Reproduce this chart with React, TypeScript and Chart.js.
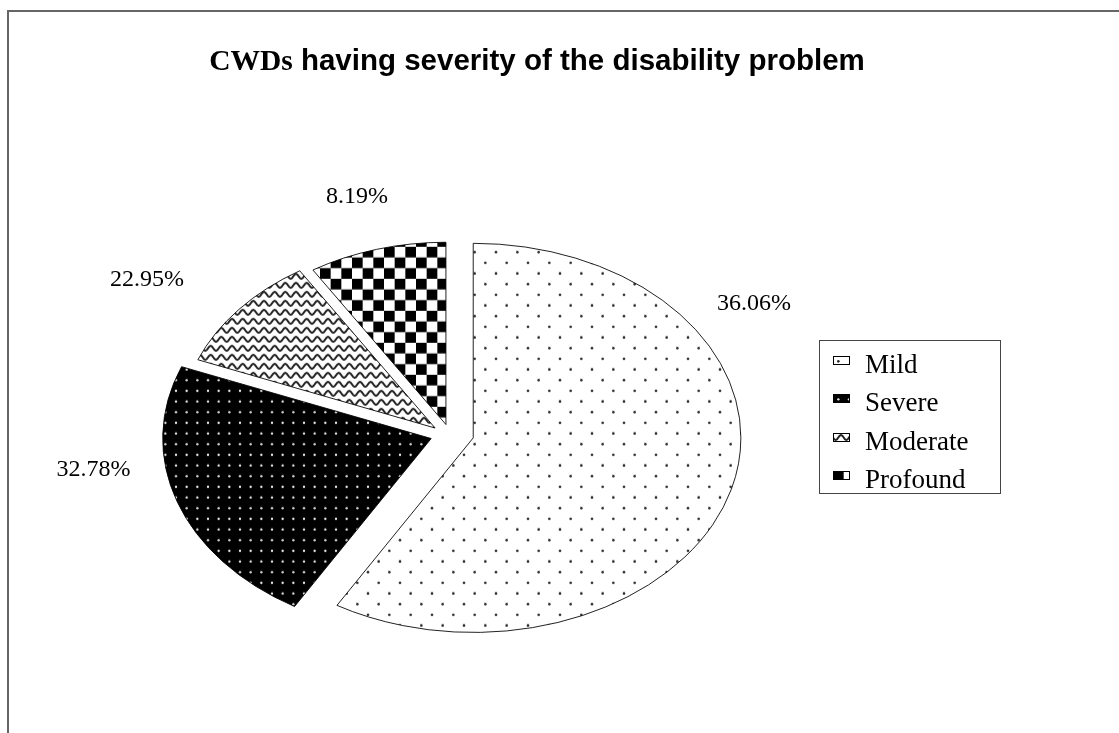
import { useEffect, useRef } from 'react';
import { Chart, registerables } from 'chart.js';

Chart.register(...registerables);

// ---------- data ----------
const categories = ['Mild', 'Severe', 'Moderate', 'Profound'];
// slice shares as drawn in the picture (percent of the full circle)
const sliceShares = [58.5, 22.5, 10.1, 8.9];
// printed percentage labels
const percentLabels = ['36.06%', '32.78%', '22.95%', '8.19%'];
const titleLead = 'CWDs';
const titleRest = ' having severity of the disability problem';

// ---------- style ----------
const W = 1119;
const H = 733;
const PIE_RADIUS = 264;
const TILT = 0.727; // vertical squash of the pie (ellipse)
const EXPLODE_X = 22;
const EXPLODE_Y = 15;
const PERSPECTIVE = 0.0048; // size change per px of vertical shift (3D look)
// label anchors: [angle clockwise from 12 o'clock (deg), radius factor]
const LABEL_POLAR: [number, number][] = [
  [58.7, 1.339],
  [262.9, 1.368],
  [305.4, 1.417],
  [344.0, 1.304],
];
const P = 32 / 3;

function makeTile(w: number, h: number, draw: (g: CanvasRenderingContext2D) => void) {
  const c = document.createElement('canvas');
  c.width = w;
  c.height = h;
  const g = c.getContext('2d')!;
  draw(g);
  return c;
}

function buildTiles() {
  const mild = makeTile(64, 64, (g) => {
    g.fillStyle = '#fff';
    g.fillRect(0, 0, 64, 64);
    g.fillStyle = '#2a2a2a';
    for (let r = 0; r < 6; r++) {
      for (let c = 0; c < 3; c++) {
        const x = P / 2 + c * 2 * P + (r % 2) * P;
        const y = P / 2 + r * P;
        g.beginPath();
        g.arc(x, y, 1.3, 0, Math.PI * 2);
        g.fill();
      }
    }
  });
  const severe = makeTile(32, 32, (g) => {
    g.fillStyle = '#000';
    g.fillRect(0, 0, 32, 32);
    g.fillStyle = '#e6e6e6';
    for (let r = 0; r < 3; r++) {
      for (let c = 0; c < 3; c++) {
        g.beginPath();
        g.arc(P / 2 + c * P, P / 2 + r * P, 1.2, 0, Math.PI * 2);
        g.fill();
      }
    }
  });
  const moderate = makeTile(32, 27, (g) => {
    g.fillStyle = '#fff';
    g.fillRect(0, 0, 32, 27);
    g.strokeStyle = '#222';
    g.lineWidth = 2;
    for (let r = 0; r < 3; r++) {
      const y0 = 4.5 + r * 9;
      g.beginPath();
      for (let x = -1; x <= 33; x += 0.5) {
        const y = y0 + 2.4 * Math.sin((2 * Math.PI * x) / P);
        if (x === -1) g.moveTo(x, y);
        else g.lineTo(x, y);
      }
      g.stroke();
    }
  });
  const profound = makeTile(64, 64, (g) => {
    g.fillStyle = '#fff';
    g.fillRect(0, 0, 64, 64);
    g.fillStyle = '#000';
    for (let i = 0; i < 6; i++) {
      for (let j = 0; j < 6; j++) {
        if ((i + j) % 2 === 0) g.fillRect(i * P, j * P, P, P);
      }
    }
  });
  return [mild, severe, moderate, profound];
}

export default function App() {
  const ref = useRef<HTMLCanvasElement | null>(null);

  useEffect(() => {
    const canvas = ref.current;
    if (!canvas) return;
    const ctx0 = canvas.getContext('2d')!;
    const tiles = buildTiles();
    const piePatterns = tiles.map((t) => {
      const p = ctx0.createPattern(t, 'repeat')!;
      p.setTransform(new DOMMatrix().scale(1, 1 / TILT));
      return p;
    });
    const legendPatterns = tiles.map((t) => ctx0.createPattern(t, 'repeat')!);

    const center = (chart: any) => ({
      cx: (chart.chartArea.left + chart.chartArea.right) / 2,
      cy: (chart.chartArea.top + chart.chartArea.bottom) / 2,
    });

    const framePlugin = {
      id: 'frame',
      beforeDraw(chart: any) {
        const ctx = chart.ctx;
        ctx.save();
        ctx.fillStyle = '#fff';
        ctx.fillRect(0, 0, W, H);
        ctx.strokeStyle = '#666';
        ctx.lineWidth = 2;
        ctx.beginPath();
        ctx.moveTo(8, H + 5);
        ctx.lineTo(8, 11);
        ctx.lineTo(W + 5, 11);
        ctx.stroke();
        ctx.restore();
      },
    };

    // explode every slice along its mid angle; slices pushed "back" get slightly smaller
    const explodePlugin = {
      id: 'explode',
      afterDatasetsUpdate(chart: any) {
        const meta = chart.getDatasetMeta(0);
        meta.data.forEach((el: any) => {
          const mid = (el.startAngle + el.endAngle) / 2;
          const dy = Math.sin(mid) * EXPLODE_Y;
          el.x += Math.cos(mid) * EXPLODE_X;
          el.y += dy;
          el.outerRadius *= 1 + PERSPECTIVE * dy * TILT;
        });
      },
    };

    const ellipsePlugin = {
      id: 'ellipse',
      beforeDatasetsDraw(chart: any) {
        const { cx, cy } = center(chart);
        const ctx = chart.ctx;
        ctx.save();
        ctx.translate(cx, cy);
        ctx.scale(1, TILT);
        ctx.translate(-cx, -cy);
      },
      afterDatasetsDraw(chart: any) {
        chart.ctx.restore();
      },
    };

    const labelPlugin = {
      id: 'pctLabels',
      afterDraw(chart: any) {
        const ctx = chart.ctx;
        const { cx, cy } = center(chart);
        const meta = chart.getDatasetMeta(0);
        const R = meta.controller.outerRadius || PIE_RADIUS;
        ctx.save();
        ctx.font = '24px "Liberation Serif"';
        ctx.fillStyle = '#000';
        ctx.textAlign = 'center';
        ctx.textBaseline = 'alphabetic';
        percentLabels.forEach((txt, i) => {
          const [deg, f] = LABEL_POLAR[i];
          const a = (deg * Math.PI) / 180;
          const x = cx + Math.sin(a) * f * R;
          const y = cy - Math.cos(a) * f * R * TILT;
          ctx.fillText(txt, x, y + 8.5);
        });
        ctx.restore();
      },
    };

    const legendPlugin = {
      id: 'boxLegend',
      afterDraw(chart: any) {
        const ctx = chart.ctx;
        ctx.save();
        ctx.fillStyle = '#fff';
        ctx.fillRect(819.5, 340.5, 181, 153);
        ctx.strokeStyle = '#444';
        ctx.lineWidth = 1;
        ctx.strokeRect(819.5, 340.5, 181, 153);
        ctx.font = '27px "Liberation Serif"';
        ctx.textAlign = 'left';
        ctx.textBaseline = 'alphabetic';
        categories.forEach((name, i) => {
          const base = 373 + i * 38.4;
          const sx = 833;
          const sy = Math.round(base - 17);
          ctx.save();
          ctx.translate(sx, sy);
          ctx.fillStyle = legendPatterns[i];
          ctx.fillRect(0, 0, 17, 9);
          ctx.strokeStyle = '#000';
          ctx.strokeRect(0.5, 0.5, 16, 8);
          ctx.restore();
          ctx.fillStyle = '#000';
          ctx.fillText(name, 865, base);
        });
        ctx.restore();
      },
    };

    const titlePlugin = {
      id: 'mixedTitle',
      afterDraw(chart: any) {
        const ctx = chart.ctx;
        ctx.save();
        const f1 = 'bold 29.5px "Liberation Serif"';
        const f2 = 'bold 29.5px "Liberation Sans"';
        ctx.font = f1;
        const w1 = ctx.measureText(titleLead).width;
        ctx.font = f2;
        const w2 = ctx.measureText(titleRest).width;
        const x0 = 537 - (w1 + w2) / 2;
        ctx.fillStyle = '#000';
        ctx.textBaseline = 'alphabetic';
        ctx.textAlign = 'left';
        ctx.font = f1;
        ctx.fillText(titleLead, x0, 70);
        ctx.font = f2;
        ctx.fillText(titleRest, x0 + w1, 70);
        ctx.restore();
      },
    };

    const chart = new Chart(canvas, {
      type: 'pie',
      data: {
        labels: categories,
        datasets: [
          {
            data: sliceShares,
            backgroundColor: piePatterns as any,
            borderColor: '#000',
            borderWidth: 1,
            radius: PIE_RADIUS,
            clip: false as any,
          } as any,
        ],
      },
      options: {
        animation: false,
        responsive: false,
        devicePixelRatio: 1,
        events: [],
        layout: { padding: { left: 0, right: 215, top: 137, bottom: 0 } },
        plugins: {
          legend: { display: false },
          title: { display: false },
          tooltip: { enabled: false },
        },
      } as any,
      plugins: [framePlugin, explodePlugin, ellipsePlugin, labelPlugin, legendPlugin, titlePlugin],
    });

    return () => chart.destroy();
  }, []);

  return (
    <canvas
      ref={ref}
      width={W}
      height={H}
      style={{ position: 'absolute', left: 0, top: 0, display: 'block' }}
    />
  );
}
